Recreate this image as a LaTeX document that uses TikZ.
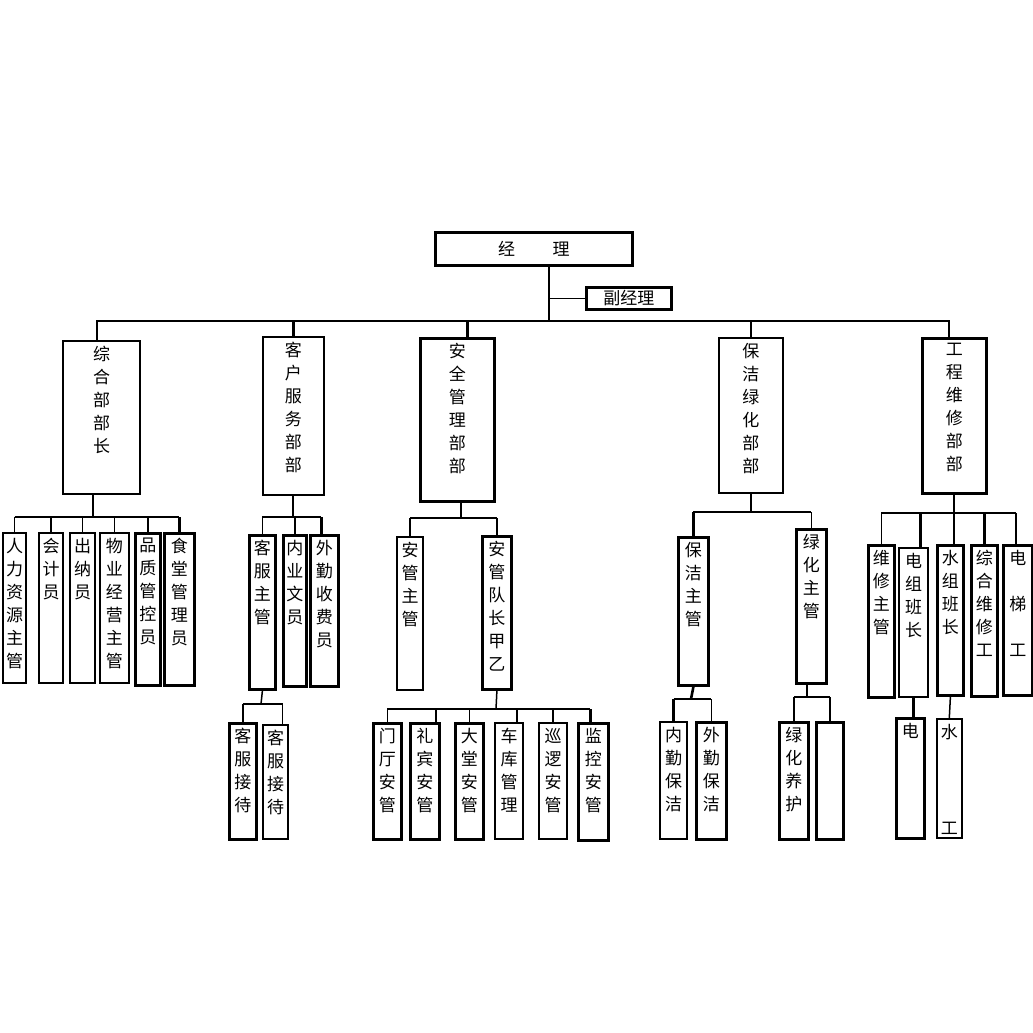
\documentclass[tikz,border=0pt]{standalone}
\usepackage{fontspec}
\newfontfamily\cjk{Noto Sans CJK SC}
\begin{document}
\begin{tikzpicture}[x=1pt, y=-1pt,
  box/.style={draw, line width=1.6pt, inner sep=0pt, anchor=north west},
  mbox/.style={box, line width=2.1pt},
  tbox/.style={box, line width=2.8pt},
  txt/.style={anchor=north, align=center, inner sep=0pt, yshift=-6pt, font=\cjk\fontsize{17pt}{23pt}\selectfont},
  txtb/.style={txt, anchor=south, yshift=10pt},
  ln/.style={line width=1.5pt},
  mln/.style={line width=2pt},
  tln/.style={line width=2.6pt}]
  \useasboundingbox (0,0) rectangle (1033,1033);
  % top
  \node[tbox, minimum width=197pt, minimum height=33pt, font=\cjk\fontsize{17pt}{23pt}\selectfont] (boss) at (434,231) {经\hspace{2.2em}理};
  \node[tbox, minimum width=85pt, minimum height=22pt, font=\cjk\fontsize{17pt}{23pt}\selectfont] (vice) at (585,286) {副经理};
  % departments
  \node[mbox, minimum width=77pt, minimum height=153pt, label={[txt]north:{综\\合\\部\\部\\长}}] (d1) at (62,340) {};
  \node[box, minimum width=61pt, minimum height=158pt, label={[txt]north:{客\\户\\服\\务\\部\\部}}] (d2) at (262,336) {};
  \node[tbox, minimum width=74pt, minimum height=163pt, label={[txt]north:{安\\全\\管\\理\\部\\部}}] (d3) at (419,337) {};
  \node[box, minimum width=64pt, minimum height=155pt, label={[txt]north:{保\\洁\\绿\\化\\部\\部}}] (d4) at (718,337) {};
  \node[tbox, minimum width=64pt, minimum height=155pt, label={[txt]north:{工\\程\\维\\修\\部\\部}}] (d5) at (921,337) {};
  % 综合部
  \node[mbox, minimum width=23pt, minimum height=150pt, label={[txt]north:{人\\力\\资\\源\\主\\管}}] (a1) at (2,532) {};
  \node[mbox, minimum width=24pt, minimum height=150pt, label={[txt]north:{会\\计\\员}}] (a2) at (38,532) {};
  \node[mbox, minimum width=25pt, minimum height=150pt, label={[txt]north:{出\\纳\\员}}] (a3) at (69,532) {};
  \node[box, minimum width=29pt, minimum height=150pt, label={[txt]north:{物\\业\\经\\营\\主\\管}}] (a4) at (99,532) {};
  \node[tbox, minimum width=25pt, minimum height=152pt, label={[txt]north:{品\\质\\管\\控\\员}}] (a5) at (134,532) {};
  \node[tbox, minimum width=30pt, minimum height=152pt, label={[txt]north:{食\\堂\\管\\理\\员}}] (a6) at (163,532) {};
  % 客户服务部
  \node[tbox, minimum width=26pt, minimum height=154pt, label={[txt]north:{客\\服\\主\\管}}] (c1) at (248,534) {};
  \node[tbox, minimum width=23pt, minimum height=151pt, label={[txt]north:{内\\业\\文\\员}}] (c2) at (282,534) {};
  \node[tbox, minimum width=28pt, minimum height=151pt, label={[txt]north:{外\\勤\\收\\费\\员}}] (c3) at (309,534) {};
  \node[tbox, minimum width=27pt, minimum height=116pt, label={[txt]north:{客\\服\\接\\待}}] (c4) at (228,722) {};
  \node[mbox, minimum width=25pt, minimum height=114pt, label={[txt]north:{客\\服\\接\\待}}] (c5) at (262,724) {};
  % 安全管理部
  \node[mbox, minimum width=26pt, minimum height=153pt, label={[txt]north:{安\\管\\主\\管}}] (s1) at (396,536) {};
  \node[tbox, minimum width=29pt, minimum height=153pt, label={[txt]north:{安\\管\\队\\长\\甲\\乙}}] (s2) at (481,535) {};
  \node[tbox, minimum width=28pt, minimum height=116pt, label={[txt]north:{门\\厅\\安\\管}}] (s3) at (372,722) {};
  \node[tbox, minimum width=29pt, minimum height=116pt, label={[txt]north:{礼\\宾\\安\\管}}] (s4) at (409,722) {};
  \node[tbox, minimum width=28pt, minimum height=116pt, label={[txt]north:{大\\堂\\安\\管}}] (s5) at (454,722) {};
  \node[mbox, minimum width=28pt, minimum height=116pt, label={[txt]north:{车\\库\\管\\理}}] (s6) at (494,722) {};
  \node[mbox, minimum width=28pt, minimum height=116pt, label={[txt]north:{巡\\逻\\安\\管}}] (s7) at (538,722) {};
  \node[tbox, minimum width=30pt, minimum height=117pt, label={[txt]north:{监\\控\\安\\管}}] (s8) at (577,722) {};
  % 保洁绿化部
  \node[tbox, minimum width=30pt, minimum height=148pt, label={[txt]north:{保\\洁\\主\\管}}] (p1) at (677,536) {};
  \node[tbox, minimum width=30pt, minimum height=154pt, label={[txt]north:{绿\\化\\主\\管}}] (p2) at (795,528) {};
  \node[mbox, minimum width=27pt, minimum height=117pt, label={[txt]north:{内\\勤\\保\\洁}}] (p3) at (659,721) {};
  \node[tbox, minimum width=30pt, minimum height=117pt, label={[txt]north:{外\\勤\\保\\洁}}] (p4) at (695,721) {};
  \node[tbox, minimum width=29pt, minimum height=117pt, label={[txt]north:{绿\\化\\养\\护}}] (p5) at (778,721) {};
  \node[tbox, minimum width=27pt, minimum height=117pt] (p6) at (815,721) {};
  % 工程维修部
  \node[tbox, minimum width=26pt, minimum height=152pt, label={[txt]north:{维\\修\\主\\管}}] (e1) at (867,544) {};
  \node[mbox, minimum width=29pt, minimum height=149pt, label={[txt]north:{电\\组\\班\\长}}] (e2) at (898,547) {};
  \node[tbox, minimum width=26pt, minimum height=150pt, label={[txt]north:{水\\组\\班\\长}}] (e3) at (936,544) {};
  \node[tbox, minimum width=26pt, minimum height=151pt, label={[txt]north:{综\\合\\维\\修\\工}}] (e4) at (970,544) {};
  \node[tbox, minimum width=29pt, minimum height=150pt, label={[txt]north:{电\\[23pt]梯\\[23pt]工}}] (e5) at (1002,544) {};
  \node[tbox, minimum width=28pt, minimum height=120pt, label={[txt]north:电}] (e6) at (895,717) {};
  \node[box, minimum width=25pt, minimum height=119pt, label={[txt]north:水}, label={[txtb]south:工}] (e7) at (936,718) {};

  % links, top level
  \coordinate (topbus) at (549,321);
  \draw[ln] (boss.south -| topbus) -- (topbus);
  \draw[ln] (vice.west) -- (vice.west -| topbus);
  \draw[mln] ([xshift=-5pt]d1.north) |- (topbus) -| ([xshift=-5pt]d5.north);
  \path
    (d2.north) edge[tln] (d2.north |- topbus)
    ([xshift=10pt]d3.north) edge[tln] ([xshift=10pt]d3.north |- topbus)
    (d4.north) edge[ln] (d4.north |- topbus);
  % 综合部
  \coordinate (abus) at (93,517);
  \draw[tln] (d1.south -| abus) -- (abus);
  \draw[ln] (a1.north |- abus) -- (a6.north |- abus);
  \path
    (a1.north) edge[ln] (a1.north |- abus)
    (a2.north) edge[ln] (a2.north |- abus)
    (a3.north) edge[ln] (a3.north |- abus)
    (a4.north) edge[ln] (a4.north |- abus)
    (a5.north) edge[tln] (a5.north |- abus)
    (a6.north) edge[tln] (a6.north |- abus);
  % 客户服务部
  \coordinate (cbus) at (293,517);
  \draw[tln] (d2.south -| cbus) -- (cbus);
  \draw[ln] (c1.north |- cbus) -- ([xshift=-3pt]c3.north |- cbus);
  \path
    (c1.north) edge[ln] (c1.north |- cbus)
    (c2.north) edge[ln] (c2.north |- cbus)
    ([xshift=-3pt]c3.north) edge[tln] ([xshift=-3pt]c3.north |- cbus);
  \coordinate (c1bus) at (261,704);
  \draw[ln] (c1.south) -- (c1bus);
  \draw[ln] (c4.north |- c1bus) -- ([xshift=7pt]c5.north |- c1bus);
  \path
    (c4.north) edge[ln] (c4.north |- c1bus)
    ([xshift=7pt]c5.north) edge[ln] ([xshift=7pt]c5.north |- c1bus);
  % 安全管理部
  \coordinate (sbus) at (461,518);
  \draw[ln] (d3.south -| sbus) -- (sbus);
  \draw[mln] (s1.north |- sbus) -- (s2.north |- sbus);
  \path
    (s1.north) edge[tln] (s1.north |- sbus)
    (s2.north) edge[ln] (s2.north |- sbus);
  \coordinate (s2bus) at (496,709);
  \draw[ln] (s2.south) -- (s2bus);
  \draw[mln] (s3.north |- s2bus) -- ([xshift=-3pt]s8.north |- s2bus);
  \path
    (s3.north) edge[ln] (s3.north |- s2bus)
    ([xshift=11pt]s4.north) edge[tln] ([xshift=11pt]s4.north |- s2bus)
    (s5.north) edge[ln] (s5.north |- s2bus)
    ([xshift=8pt]s6.north) edge[tln] ([xshift=8pt]s6.north |- s2bus)
    (s7.north) edge[tln] (s7.north |- s2bus)
    ([xshift=-3pt]s8.north) edge[tln] ([xshift=-3pt]s8.north |- s2bus);
  % 保洁绿化部
  \coordinate (pbus) at (751,512);
  \draw[tln] (d4.south -| pbus) -- (pbus);
  \draw[tln] (p1.north |- pbus) -- (p2.north |- pbus);
  \path
    (p1.north) edge[tln] (p1.north |- pbus)
    (p2.north) edge[ln] (p2.north |- pbus);
  \coordinate (p1bus) at (691,699);
  \draw[tln] (p1.south) -- (p1bus);
  \draw[tln] (p3.north |- p1bus) -- (p4.north |- p1bus);
  \path
    (p3.north) edge[tln] (p3.north |- p1bus)
    (p4.north) edge[ln] (p4.north |- p1bus);
  \coordinate (p2bus) at (807,697);
  \draw[tln] (p2.south -| p2bus) -- (p2bus);
  \draw[ln] (p5.north |- p2bus) -- (p6.north |- p2bus);
  \path
    (p5.north) edge[ln] (p5.north |- p2bus)
    (p6.north) edge[ln] (p6.north |- p2bus);
  % 工程维修部
  \coordinate (ebus) at (954,513);
  \draw[ln] (d5.south -| ebus) -- (ebus);
  \draw[tln] (e1.north |- ebus) -- ([xshift=-2pt]e5.north |- ebus);
  \path
    (e1.north) edge[ln] (e1.north |- ebus)
    ([xshift=7pt]e2.north) edge[tln] ([xshift=7pt]e2.north |- ebus)
    (e3.north -| ebus) edge[ln] (ebus)
    (e4.north) edge[tln] (e4.north |- ebus)
    ([xshift=-2pt]e5.north) edge[tln] ([xshift=-2pt]e5.north |- ebus);
  \draw[tln] (e2.south) -- (e2.south |- e6.north);
  \draw[ln] (e3.south) -- (e7.north);
\end{tikzpicture}
\end{document}
